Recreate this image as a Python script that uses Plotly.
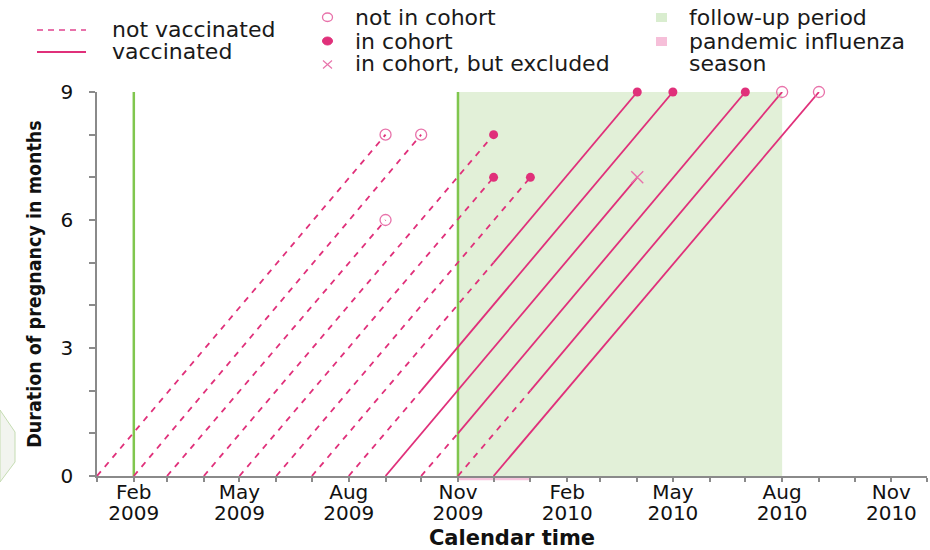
import pandas as pd
import plotly.graph_objects as go

# ---- data -------------------------------------------------------------
# month of conception of each pregnancy
conception = ["2009-01", "2009-02", "2009-03", "2009-04", "2009-05", "2009-06",
              "2009-07", "2009-08", "2009-09", "2009-10", "2009-11", "2009-12"]
# month in which the pregnancy ends / observation stops
end_month = ["2009-09", "2009-10", "2009-09", "2009-12", "2009-12", "2010-01",
             "2010-04", "2010-05", "2010-04", "2010-07", "2010-08", "2010-09"]
# month of vaccination (None = not vaccinated)
vaccination = [None, None, None, None, None, None,
               "2009-12", "2009-10", "2009-09", "2009-11", "2010-01", "2009-12"]
# cohort status at the end point
status = ["not in cohort", "not in cohort", "not in cohort", "in cohort", "in cohort", "in cohort",
          "in cohort", "in cohort", "excluded", "in cohort", "not in cohort", "not in cohort"]

follow_up_period = ("2009-11", "2010-08")
pandemic_season = ("2009-11", "2010-01")
marker_dates = ["2009-02", "2009-11"]

axis_months = list(pd.date_range("2009-01-01", "2010-12-01", freq="MS"))
labelled_months = ["Feb", "May", "Aug", "Nov"]
y_ticks = list(range(10))
y_labels = ["0", "", "", "3", "", "", "6", "", "", "9"]

# ---- helpers ----------------------------------------------------------
def d(m):
    return m + "-01"


def months_between(a, b):
    return (pd.Period(b, "M") - pd.Period(a, "M")).n


PINK = "#e0307a"
PINK_LIGHT = "#e872aa"
GREEN_FILL = "#e2f0d8"
GREEN_LINE = "#80c64e"
FLU_PINK = "#f7c5dd"
AXIS_GREY = "#8a8a8a"
FONT = "DejaVu Sans"

# build the unvaccinated (dashed) and vaccinated (solid) segments
dash_x, dash_y, solid_x, solid_y = [], [], [], []
for c, e, v in zip(conception, end_month, vaccination):
    n_end = months_between(c, e)
    if v is None:
        dash_x += [d(c), d(e), None]
        dash_y += [0, n_end, None]
    else:
        n_v = months_between(c, v)
        if n_v > 0:
            dash_x += [d(c), d(v), None]
            dash_y += [0, n_v, None]
        solid_x += [d(v), d(e), None]
        solid_y += [n_v, n_end, None]


def end_points(kind):
    xs, ys = [], []
    for c, e, s in zip(conception, end_month, status):
        if s == kind:
            xs.append(d(e))
            ys.append(months_between(c, e))
    return xs, ys


fig = go.Figure()
fig.add_trace(go.Scatter(x=dash_x, y=dash_y, mode="lines", cliponaxis=False,
                         line=dict(color=PINK, width=1.8, dash="6px,6px"),
                         name="not vaccinated", hoverinfo="skip"))
fig.add_trace(go.Scatter(x=solid_x, y=solid_y, mode="lines", cliponaxis=False,
                         line=dict(color=PINK, width=1.8),
                         name="vaccinated", hoverinfo="skip"))

ox, oy = end_points("not in cohort")
fig.add_trace(go.Scatter(x=ox, y=oy, mode="markers", cliponaxis=False, name="not in cohort",
                         marker=dict(symbol="circle-open", size=11, color=PINK_LIGHT,
                                     line=dict(width=1.3, color=PINK_LIGHT))))
fx, fy = end_points("in cohort")
fig.add_trace(go.Scatter(x=fx, y=fy, mode="markers", cliponaxis=False, name="in cohort",
                         marker=dict(symbol="circle", size=9, color=PINK)))
xx, xy = end_points("excluded")
fig.add_trace(go.Scatter(x=xx, y=xy, mode="markers", cliponaxis=False,
                         name="in cohort, but excluded",
                         marker=dict(symbol="x-thin-open", size=12, color=PINK_LIGHT,
                                     line=dict(width=1.4, color=PINK_LIGHT))))
# carrier for the year row of the calendar axis
fig.add_trace(go.Scatter(x=[d(conception[0])], y=[0], xaxis="x2", mode="markers",
                         marker=dict(opacity=0), hoverinfo="skip", showlegend=False))

# ---- shaded periods and reference lines --------------------------------
shapes = [
    dict(type="rect", xref="x", yref="y", x0=d(follow_up_period[0]), x1=d(follow_up_period[1]),
         y0=0, y1=9, fillcolor=GREEN_FILL, line=dict(width=0), layer="below"),
    dict(type="rect", xref="x", yref="paper", x0=d(pandemic_season[0]), x1=d(pandemic_season[1]),
         y0=-0.011, y1=0, fillcolor=FLU_PINK, line=dict(width=0), layer="below"),
]
for m in marker_dates:
    shapes.append(dict(type="line", xref="x", yref="y", x0=d(m), x1=d(m), y0=0, y1=9,
                       line=dict(color=GREEN_LINE, width=2.5), layer="below"))

# ---- hand-drawn legend (pixel positions converted to paper units) -------
L, R, T, B = 97, 3, 92, 74
PW, PH = 930 - L - R, 550 - T - B


def px(xp):
    return (xp - L) / PW


def py(yp):
    return (550 - B - yp) / PH


shapes += [
    dict(type="line", xref="paper", yref="paper", x0=px(37), x1=px(86), y0=py(30), y1=py(30),
         line=dict(color=PINK_LIGHT, width=1.8, dash="6px,5px")),
    dict(type="line", xref="paper", yref="paper", x0=px(37), x1=px(86), y0=py(52), y1=py(52),
         line=dict(color=PINK, width=1.8)),
    dict(type="circle", xref="paper", yref="paper", x0=px(322.5), x1=px(332.5), y0=py(21.5), y1=py(13),
         line=dict(color=PINK_LIGHT, width=1.3)),
    dict(type="circle", xref="paper", yref="paper", x0=px(322.5), x1=px(332.5), y0=py(45), y1=py(37),
         fillcolor=PINK, line=dict(color=PINK, width=1)),
    dict(type="line", xref="paper", yref="paper", x0=px(323), x1=px(332), y0=py(60.5), y1=py(68.5),
         line=dict(color=PINK_LIGHT, width=1.2)),
    dict(type="line", xref="paper", yref="paper", x0=px(323), x1=px(332), y0=py(68.5), y1=py(60.5),
         line=dict(color=PINK_LIGHT, width=1.2)),
    dict(type="rect", xref="paper", yref="paper", x0=px(656), x1=px(667), y0=py(22), y1=py(13),
         fillcolor="#d9edcf", line=dict(width=0)),
    dict(type="rect", xref="paper", yref="paper", x0=px(656), x1=px(667), y0=py(46), y1=py(37),
         fillcolor="#f6bfd9", line=dict(width=0)),
    # faint decoration at the left edge
    dict(type="path", xref="paper", yref="paper",
         path=f"M {px(0)} {py(410)} L {px(15)} {py(432)} L {px(15)} {py(462)} L {px(0)} {py(482)} Z",
         fillcolor="#f2f4ef", line=dict(color="#c5dcb2", width=1)),
]

legend_text = [
    ("not vaccinated", 110, 29),
    ("vaccinated", 110, 52),
    ("not in cohort", 353, 17),
    ("in cohort", 353, 41),
    ("in cohort, but excluded", 353, 64),
    ("follow-up period", 687, 17),
    ("pandemic influenza", 687, 41),
    ("season", 687, 64),
]
annotations = [
    dict(text=t, x=px(xp), y=py(yp), xref="paper", yref="paper", xanchor="left", yanchor="middle",
         showarrow=False, font=dict(family=FONT, size=22, color="#1a1a1a"))
    for t, xp, yp in legend_text
]

month_text = [m.strftime("%b") if m.strftime("%b") in labelled_months else "" for m in axis_months]
year_vals = [m for m in axis_months if m.strftime("%b") in labelled_months]
year_text = [m.strftime("%Y") for m in year_vals]

tick_font = dict(family=FONT, size=20, color="#111111")

fig.update_layout(
    template="none",
    width=930, height=550,
    margin=dict(l=L, r=R, t=T, b=B, pad=0),
    paper_bgcolor="white", plot_bgcolor="white",
    showlegend=False,
    shapes=shapes,
    annotations=annotations,
    xaxis=dict(type="date", range=[axis_months[0], axis_months[-1]], automargin=False,
               tickvals=axis_months, ticktext=month_text, tickfont=tick_font,
               ticks="outside", ticklen=4, tickwidth=1.5, tickcolor=AXIS_GREY,
               showline=True, linecolor=AXIS_GREY, linewidth=1.5,
               showgrid=False, zeroline=False, ticklabelstandoff=-7,
               title=dict(text="Calendar time", standoff=33,
                          font=dict(family=FONT, size=21, color="#111111", weight="bold"))),
    xaxis2=dict(type="date", overlaying="x", matches="x", anchor="y", side="bottom",
                range=[axis_months[0], axis_months[-1]], automargin=False,
                tickvals=year_vals, ticktext=year_text, tickfont=tick_font,
                ticks="", showline=False, showgrid=False, zeroline=False,
                ticklabelstandoff=23),
    yaxis=dict(range=[0, 9], automargin=False, tickvals=y_ticks, ticktext=y_labels, tickfont=tick_font,
               ticks="outside", ticklen=6, tickwidth=1.5, tickcolor=AXIS_GREY,
               showline=True, linecolor=AXIS_GREY, linewidth=1.5,
               showgrid=False, zeroline=False, ticklabelstandoff=12,
               title=dict(text="Duration of pregnancy in months", standoff=14,
                          font=dict(family="DejaVu Sans Condensed, Liberation Sans",
                                    size=19.5, color="#111111", weight="bold"))),
)

fig.write_html("out.html")
